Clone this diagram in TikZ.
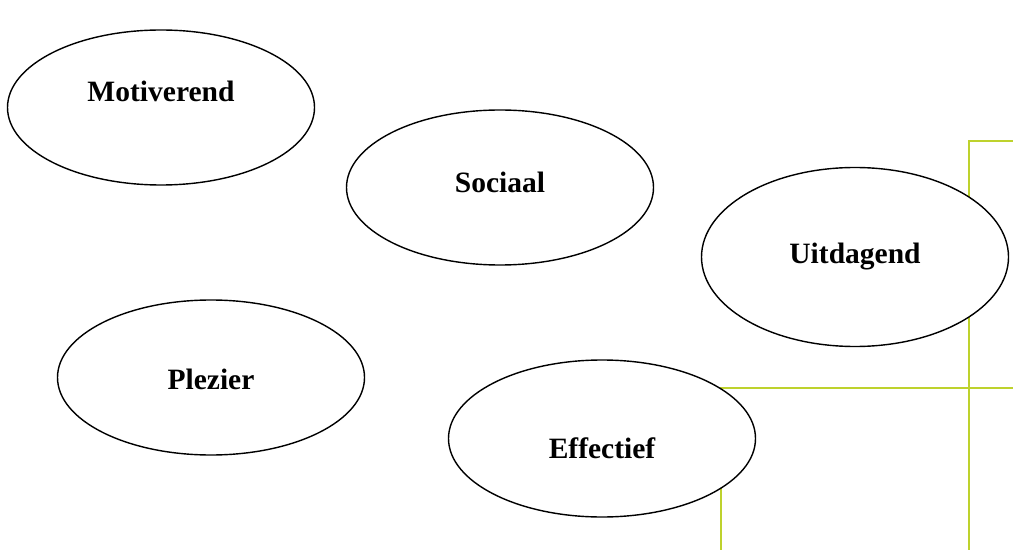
\documentclass[tikz,border=0pt]{standalone}
\usepackage{fontspec}
\setmainfont{Liberation Serif}
\usetikzlibrary{shapes.geometric}
\definecolor{lijngroen}{RGB}{190,210,45}
\tikzset{
	bol/.style={ellipse, draw, fill=white, line width=0.8pt, minimum width=307*0.02cm, minimum height=155*0.02cm},
	tekst/.style={font=\fontsize{16.8}{20}\selectfont\bfseries}
}
\begin{document}
\begin{tikzpicture}[x=0.02cm, y=-0.02cm]
		\useasboundingbox (0,0) rectangle (1013,550);
		% Groene lijnen (achter de ellipsen)
		\draw[lijngroen, line width=1.1pt] (1013,141) -- (969,141) -- (969,550);
		\draw[lijngroen, line width=1.1pt] (1013,388) -- (721,388) -- (721,550);
		
		% Ellipsen
		\node[bol, label={[tekst, yshift=9pt]center:Motiverend}] (M) at (161,107.5) {};
		\node[bol, label={[tekst, yshift=2.8pt]center:Sociaal}] (S) at (500,187.5) {};
		\node[bol, minimum height=179*0.02cm, label={[tekst]center:Uitdagend}] (U) at (855,257) {};
		\node[bol, label={[tekst, yshift=-1pt]center:Plezier}] (P) at (211,377.5) {};
		\node[bol, minimum height=157*0.02cm, label={[tekst, yshift=-5.7pt]center:Effectief}] (E) at (602,438.5) {};
	\end{tikzpicture}
\end{document}
